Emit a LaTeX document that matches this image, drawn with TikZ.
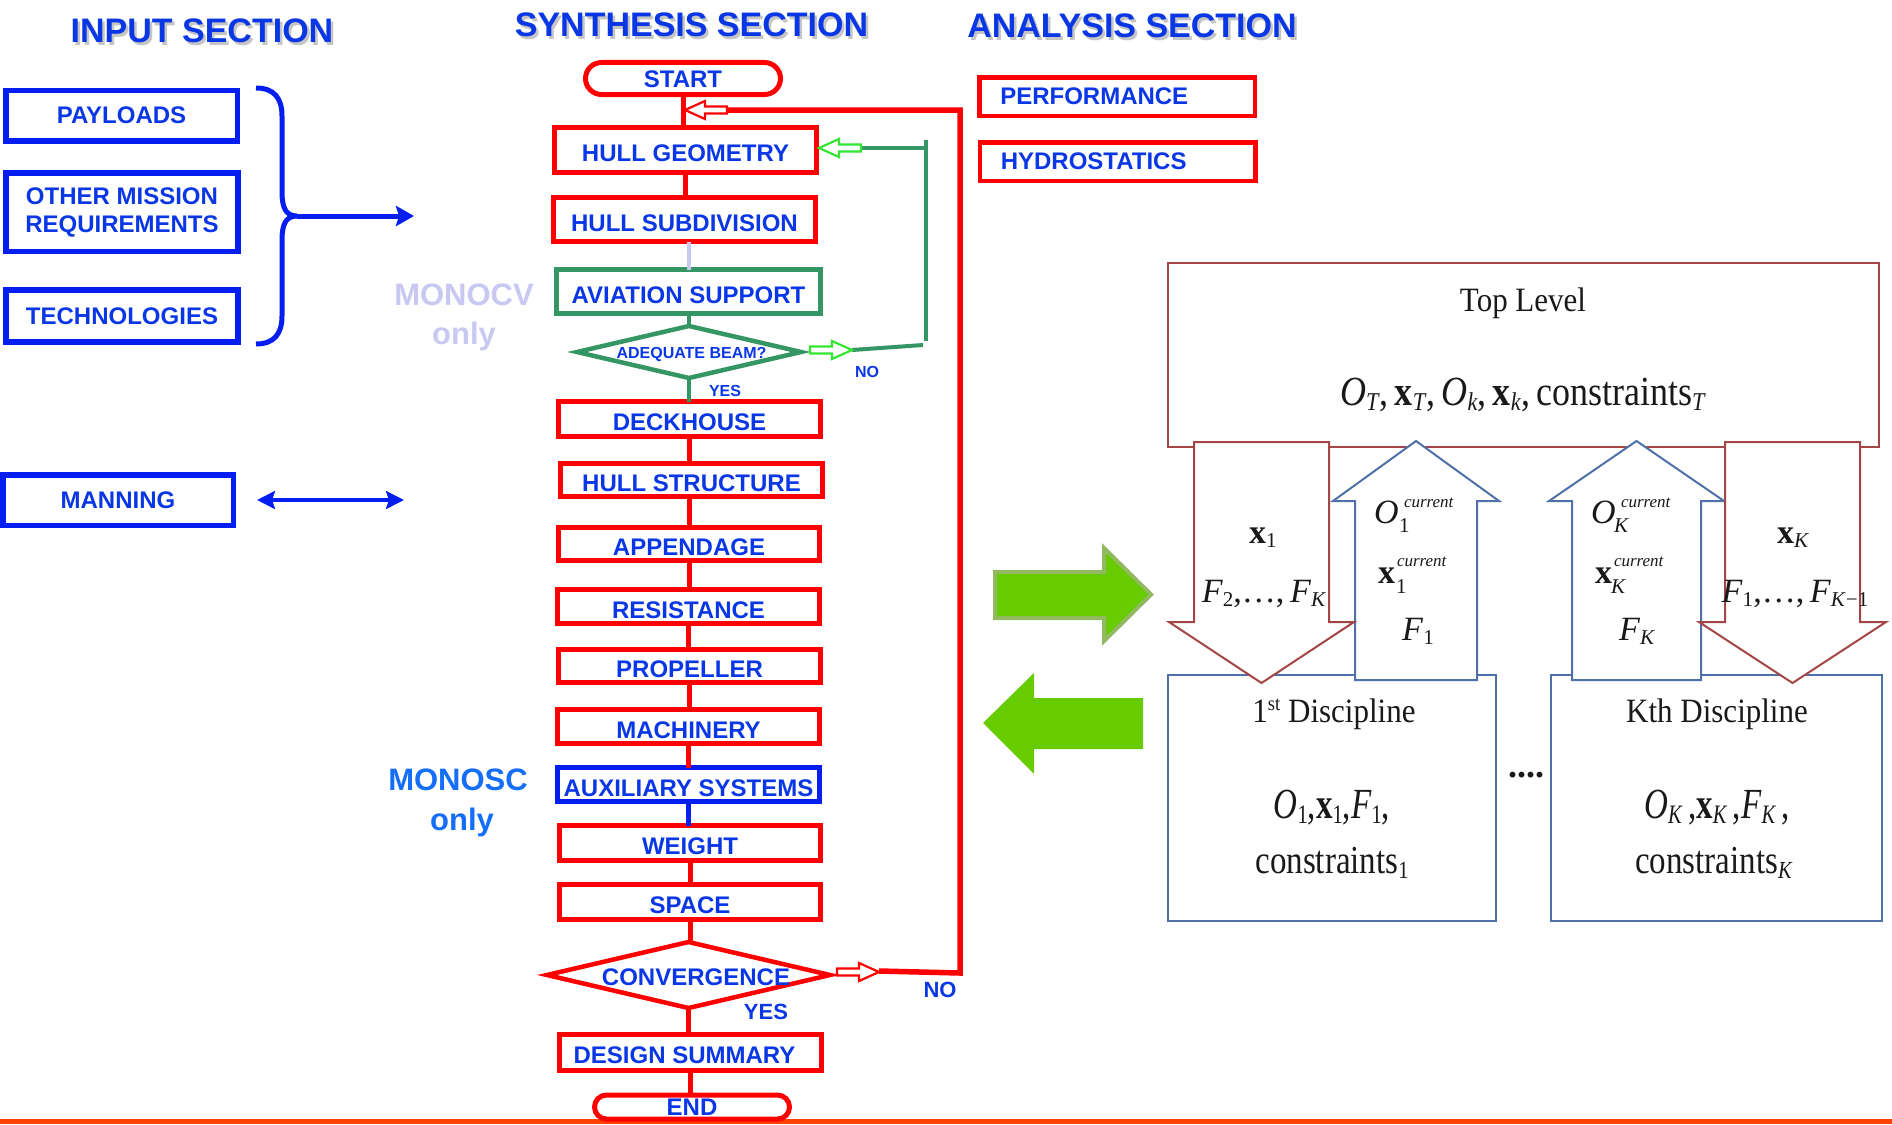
\documentclass[tikz,border=0pt]{standalone}
\usepackage{fontspec}
\setmainfont{Liberation Sans}
\newfontfamily\serifx{Liberation Serif}
\usepackage{graphicx}
\usetikzlibrary{shapes.geometric,arrows.meta}
\definecolor{tblue}{RGB}{10,55,230}
\definecolor{bblue}{RGB}{5,30,240}
\definecolor{fred}{RGB}{255,0,0}
\definecolor{fgreen}{RGB}{52,150,100}
\definecolor{lgreen}{RGB}{50,230,50}
\definecolor{lav}{RGB}{200,200,242}
\definecolor{mblue}{RGB}{20,110,250}
\definecolor{brownr}{RGB}{165,70,70}
\definecolor{steel}{RGB}{79,113,168}
\definecolor{ink}{RGB}{25,25,25}
\definecolor{bgreen}{RGB}{102,204,0}
\definecolor{bgreenb}{RGB}{145,185,95}
\definecolor{orng}{RGB}{255,64,0}
\definecolor{shad}{RGB}{140,140,140}
\newcommand\fsz[2]{\fontsize{#1}{#2}\selectfont}
\newcommand\lo[1]{\raisebox{-0.3ex}{\scalebox{0.62}{#1}}}
\newcommand\It[1]{\textit{#1}}
\newcommand\Bx{\textbf{x}}
\newcommand\tallby[2]{\scalebox{1}[#1]{#2}}
\tikzset{hollow/.pic={\path[pic actions] (0,-3.5) -- (22,-3.5) -- (22,-9) -- (42,0) -- (22,9) -- (22,3.5) -- (0,3.5) -- cycle;}}
\begin{document}
\begin{tikzpicture}[x=1pt,y=-1pt,
  every node/.style={inner sep=0, outer sep=0},
  stitle/.style={anchor=base, text=tblue, font=\bfseries\fsz{34}{40}},
  sshadow/.style={anchor=base, text=shad, opacity=0.5, font=\bfseries\fsz{34}{40}},
  inbox/.style={draw=bblue, line width=5.5, text=tblue, font=\bfseries\fsz{24}{28}, align=center},
  fbox/.style={draw=fred, line width=5, text=tblue, font=\bfseries\fsz{24}{28}, minimum width=262, text height=23.2pt, text depth=0pt},
  gbox/.style={fbox, draw=fgreen},
  bbox/.style={fbox, draw=bblue},
  term/.style={fbox, minimum width=195, rounded corners=16, text height=17.6pt},
  decide/.style={diamond, aspect=4.6, draw=fred, line width=4.5},
  dtext/.style={text=tblue, font=\bfseries\fsz{24}{28}},
  abox/.style={draw=fred, line width=4.5, text=tblue, font=\bfseries\fsz{24}{28}, minimum height=38.5, text width=233.5, inner xsep=21, align=left},
  lab/.style={text=tblue, font=\bfseries\fsz{16}{18}},
  biglab/.style={text=tblue, font=\bfseries\fsz{22}{26}},
  note/.style={anchor=base, font=\bfseries\fsz{31}{35}},
  redc/.style={draw=fred, line width=5},
  grnc/.style={draw=fgreen, line width=4},
  tbox/.style={draw=brownr, line width=2},
  dbox/.style={draw=steel, line width=2},
  dnarr/.style={draw=brownr, line width=2, fill=white},
  uparr/.style={draw=steel, line width=2, fill=white},
  serT/.style={anchor=base, text=ink, font=\serifx\fsz{31}{36}},
  serM/.style={anchor=base, text=ink, font=\serifx\fsz{34}{40}},
  serD/.style={anchor=base, text=ink, font=\serifx\fsz{33}{38}},
  supT/.style={anchor=base west, text=ink, font=\serifx\itshape\fsz{17}{20}},
  subT/.style={anchor=base west, text=ink, font=\serifx\fsz{21}{24}}]
\useasboundingbox (0,0) rectangle (1892,1124);
\fill[white] (0,0) rectangle (1892,1124);

% titles
\node[sshadow] (tinS) at (204.5,46) {INPUT SECTION};
\node[stitle] (tin) at (202,43) {INPUT SECTION};
\node[sshadow] (tsyS) at (694,40) {SYNTHESIS SECTION};
\node[stitle] (tsy) at (691.5,37) {SYNTHESIS SECTION};
\node[sshadow] (tanS) at (1134.5,41) {ANALYSIS SECTION};
\node[stitle] (tan) at (1132,38) {ANALYSIS SECTION};

% input section
\node[inbox, minimum width=231.5, minimum height=50.5] (pay) at (121.5,115.5) {PAYLOADS};
\node[inbox, minimum width=232, minimum height=78.5] (oth) at (122,212) {OTHER MISSION\\REQUIREMENTS};
\node[inbox, minimum width=232, minimum height=52] (tech) at (122,316) {TECHNOLOGIES};
\node[inbox, minimum width=230.5, minimum height=50.5] (man) at (118,500) {MANNING};
\coordinate (brtop) at (256,88);
\coordinate (brtip) at (297,216);
\coordinate (brbot) at (256,344);
\coordinate (brend) at (414,216);
\draw[bblue, line width=5] (brtop) .. controls (274,88) and (282,98) .. (282,116) -- (282,192)
   .. controls (282,208) and (286,216) .. (brtip) .. controls (286,216) and (282,224) .. (282,240)
   -- (282,316) .. controls (282,334) and (274,344) .. (brbot);
\draw[bblue, line width=5, -{Stealth[length=18,width=20,inset=3]}] (brtip) -- (brend);
\coordinate (manL) at (257,500);
\coordinate (manR) at (404,500);
\draw[bblue, line width=3.5, {Stealth[length=18,width=18,inset=3]}-{Stealth[length=18,width=18,inset=3]}] (manL) -- (manR);
\node[note, text=lav] (cv1) at (464,305) {MONOCV};
\node[note, text=lav] (cv2) at (464,344) {only};
\node[note, text=mblue] (sc1) at (458,790) {MONOSC};
\node[note, text=mblue] (sc2) at (462,830) {only};

% synthesis section
\node[term, minimum height=32] (start) at (683,78.5) {START};
\node[fbox, minimum height=45] (hg) at (685.5,150) {HULL GEOMETRY};
\node[fbox, minimum height=44] (hs) at (684.5,219.5) {HULL SUBDIVISION};
\node[gbox, minimum width=264, minimum height=44] (av) at (688.5,291.5) {AVIATION SUPPORT};
\node[decide, draw=fgreen, minimum width=224, minimum height=52] (beam) at (689,352) {};
\node[dtext, font=\bfseries\fsz{16}{18}] (beamt) at (691.5,354) {ADEQUATE BEAM?};
\node[fbox, minimum height=35] (deck) at (689.5,419) {DECKHOUSE};
\node[fbox, minimum height=33] (hstr) at (691.5,480) {HULL STRUCTURE};
\node[fbox, minimum width=261, minimum height=33] (app) at (689,544) {APPENDAGE};
\node[fbox, minimum height=34] (res) at (688.5,606.5) {RESISTANCE};
\node[fbox, minimum height=33] (prop) at (689.5,666) {PROPELLER};
\node[fbox, minimum height=34] (mach) at (688.5,726.5) {MACHINERY};
\node[bbox, minimum height=34] (aux) at (688.5,784.5) {AUXILIARY SYSTEMS};
\node[fbox, minimum width=261, minimum height=35] (wt) at (690,843) {WEIGHT};
\node[fbox, minimum width=261, minimum height=35] (spc) at (690,902) {SPACE};
\node[decide, minimum width=283, minimum height=66] (conv) at (688.5,975) {};
\node[dtext] (convt) at (696,977) {CONVERGENCE};
\node[fbox, minimum height=36, text height=21pt] (des) at (690.5,1052.5) {DESIGN SUMMARY\rule{12pt}{0pt}};
\fill[orng] (0,1119) rectangle (1892,1124);
\node[term, minimum height=24, rounded corners=12] (end) at (692,1107) {END};

\draw[redc] (start.south) -- (start.south |- hg.north);
\draw[redc] (hg.south) -- (hg.south |- hs.north);
\draw[lav, line width=4] (av.north |- hs.south) -- (av.north);
\draw[grnc] (av.south) -- (av.south |- beam.north);
\draw[grnc] (beam.south) -- (beam.south |- deck.north);
\draw[redc] (deck.south) -- (deck.south |- hstr.north);
\draw[redc] (app.north |- hstr.south) -- (app.north);
\draw[redc] (app.south) -- (app.south |- res.north);
\draw[redc] (res.south) -- (res.south |- prop.north);
\draw[redc] (prop.south) -- (prop.south |- mach.north);
\draw[redc] (mach.south) -- (mach.south |- aux.north);
\draw[bblue, line width=5] (aux.south) -- (aux.south |- wt.north);
\draw[redc] (wt.south) -- (wt.south |- spc.north);
\draw[redc] (spc.south) -- (spc.south |- conv.north);
\draw[redc] (conv.south) -- (conv.south |- des.north);
\draw[redc] (des.south) -- (des.south |- end.north);

% feedback loops
\coordinate (rA) at (879,971);
\coordinate (rB) at (960,973);
\coordinate (rC) at (960,110);
\coordinate (rD) at (727,110);
\draw[redc, line width=5.5] (rA) -- (rB) -- (rC) -- (rD);
\pic[draw=fred, fill=white, line width=2.2] at (837,972) {hollow};
\pic[draw=fred, fill=white, line width=2.2, xscale=-1] at (rD) {hollow};
\coordinate (gA) at (852,350);
\coordinate (gB) at (923,345);
\coordinate (gC) at (926,140);
\coordinate (gD) at (926,341);
\coordinate (gE) at (926,148);
\coordinate (gF) at (861,148);
\draw[grnc] (gA) -- (gB);
\draw[grnc] (gC) -- (gD);
\draw[grnc] (gE) -- (gF);
\pic[draw=lgreen, fill=white, line width=2.2] at (810,350) {hollow};
\pic[draw=lgreen, fill=white, line width=2.2, xscale=-1] at (gF) {hollow};
\node[lab] (bno) at (867,372) {NO};
\node[lab] (byes) at (725,391) {YES};
\node[biglab] (cno) at (940,990) {NO};
\node[biglab] (cyes) at (766,1012) {YES};

% analysis section
\node[abox] (perf) at (1117,96.5) {PERFORMANCE};
\node[abox] (hydro) at (1117.5,161.5) {HYDROSTATICS};

% big green arrows
\draw[bgreenb, line width=4, fill=bgreen] (995,572) -- (1104,572) -- (1104,548) -- (1151,594.5) -- (1104,641) -- (1104,618) -- (995,618) -- cycle;
\fill[bgreen] (983,723) -- (1034,673) -- (1034,698) -- (1143,698) -- (1143,749) -- (1034,749) -- (1034,774) -- cycle;

% decomposition diagram
\node[tbox, minimum width=711, minimum height=184] (top) at (1523.5,355) {};
\node[dbox, minimum width=328, minimum height=246] (d1) at (1332,798) {};
\node[dbox, minimum width=331, minimum height=246] (dK) at (1716.5,798) {};
\draw[uparr] (1355,680) -- (1355,501) -- (1333,501) -- (1416,441) -- (1499,501) -- (1477,501) -- (1477,680) -- cycle;
\draw[uparr] (1572,680) -- (1572,501) -- (1549,501) -- (1636.5,441) -- (1724,501) -- (1701,501) -- (1701,680) -- cycle;
\draw[dnarr] (1194,442) -- (1329,442) -- (1329,622) -- (1354,622) -- (1261.5,683) -- (1169,622) -- (1194,622) -- cycle;
\draw[dnarr] (1725,442) -- (1860,442) -- (1860,622) -- (1886,622) -- (1792.5,683) -- (1699,622) -- (1725,622) -- cycle;

\node[serT] (tl) at (1523,311) {\tallby{1.1}{Top Level}};
\node[serM, font=\serifx\fsz{36}{40}] (tm) at (1523,405) {\tallby{1.15}{\It{O}\lo{\It{T}},\,\Bx\lo{\It{T}},\,\It{O}\lo{\It{k}},\,\Bx\lo{\It{k}},\,constraints\lo{\It{T}}}};
\node[serM] (ax1) at (1263,543) {\Bx\lo{1}};
\node[serM] (af2) at (1264,602) {\It{F}\lo{2},…,\,\It{F}\lo{\It{K}}};
% up arrow 1 texts
\node[serM, anchor=base west] (ao1) at (1374,523) {\It{O}};
\node[supT] (ao1p) at (1404,507) {current};
\node[subT] (ao1b) at (1399,532) {1};
\node[serM, anchor=base west] (axc1) at (1378,583) {\Bx};
\node[supT] (axc1p) at (1397,566) {current};
\node[subT] (axc1b) at (1396,593) {1};
\node[serM] (af1) at (1418,640) {\It{F}\lo{1}};
% up arrow K texts
\node[serM, anchor=base west] (aoK) at (1591,523) {\It{O}};
\node[supT] (aoKp) at (1621,507) {current};
\node[subT] (aoKb) at (1614,532) {\It{K}};
\node[serM, anchor=base west] (axcK) at (1595,583) {\Bx};
\node[supT] (axcKp) at (1614,566) {current};
\node[subT] (axcKb) at (1611,593) {\It{K}};
\node[serM] (afK) at (1637,640) {\It{F}\lo{\It{K}}};
\node[serM] (axK) at (1793,543) {\Bx\lo{\It{K}}};
\node[serM] (af1K) at (1795,602) {\It{F}\lo{1},…,\,\It{F}\lo{\It{K}−1}};

\node[serT] (d1t) at (1334,722) {\tallby{1.1}{1\raisebox{0.75ex}{\scalebox{0.6}{st}} Discipline}};
\node[serD] (d1m) at (1332,818) {\tallby{1.3}{\It{O}\lo{1},\Bx\lo{1},\It{F}\lo{1},}};
\node[serD] (d1c) at (1332,873) {\tallby{1.2}{constraints\lo{1}}};
\node[serT] (dKt) at (1717,722) {\tallby{1.1}{Kth Discipline}};
\node[serD] (dKm) at (1717,818) {\tallby{1.3}{\It{O}\lo{\It{K}}\,,\Bx\lo{\It{K}}\,,\It{F}\lo{\It{K}}\,,}};
\node[serD] (dKc) at (1714,873) {\tallby{1.2}{constraints\lo{\It{K}}}};
\node[serM, font=\serifx\bfseries\fsz{36}{40}] (dots) at (1526,777) {....};
\end{tikzpicture}
\end{document}
